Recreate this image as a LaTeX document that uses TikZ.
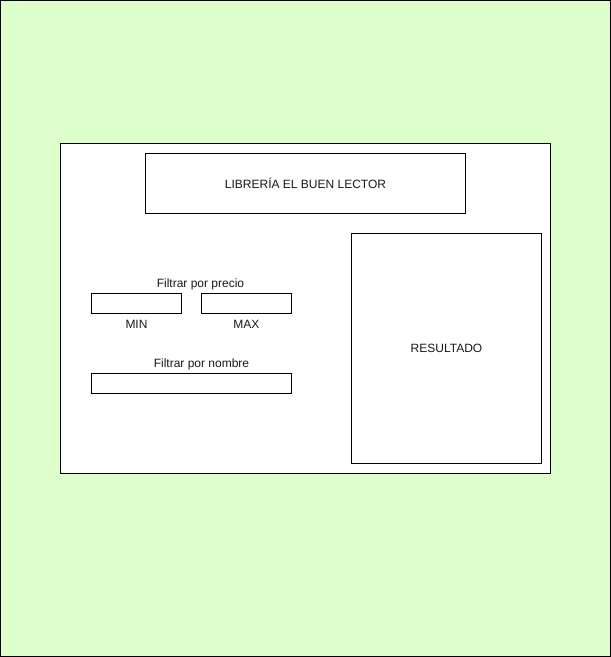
\documentclass[tikz,border=0pt]{standalone}
\usepackage{fontspec}
\setmainfont{Liberation Sans}
\definecolor{pagegreen}{HTML}{DDFFCC}
\begin{document}
\begin{tikzpicture}[x=1pt,y=-1pt,
  box/.style={draw=black,line width=1pt,fill=white,inner sep=0pt,outer sep=0pt,anchor=north west},
  lbl/.style={font=\fontsize{12}{14}\selectfont,inner sep=0pt,text=black!90}]
\useasboundingbox (0,0) rectangle (611,657);
% background panel
\node[box,fill=pagegreen,minimum width=610pt,minimum height=656pt] (page) at (0.5,0.5) {};
% main window
\node[box,minimum width=490pt,minimum height=330pt] (window) at (60.5,143.5) {};
% title bar
\node[box,minimum width=320pt,minimum height=60pt,lbl] (title) at (145.5,153.5) {LIBRERÍA EL BUEN LECTOR};
% result area
\node[box,minimum width=190pt,minimum height=230pt,lbl] (result) at (351.5,233.5) {RESULTADO};
% price filter
\node[lbl] (pricelbl) at (200.5,284) {Filtrar por precio};
\node[box,minimum width=90pt,minimum height=20pt] (minbox) at (91.5,293.5) {};
\node[box,minimum width=90pt,minimum height=20pt] (maxbox) at (201.5,293.5) {};
\node[lbl] (minlbl) at (136.5,324) {MIN};
\node[lbl] (maxlbl) at (246.5,324) {MAX};
% name filter
\node[lbl] (namelbl) at (201.5,364) {Filtrar por nombre};
\node[box,minimum width=200pt,minimum height=20pt] (namebox) at (91.5,373.5) {};
\end{tikzpicture}
\end{document}
